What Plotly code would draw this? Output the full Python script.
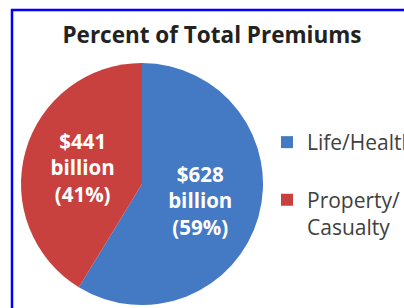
import plotly.graph_objects as go

labels = ["Life/Health<br> ", "Property/<br>Casualty"]
values = [628, 441]
percents = [59, 41]
colors = ["#4479C4", "#C8413F"]
title_text = "Percent of Total Premiums"

W, H = 404, 308

def px_x(p):
    return p / W

def px_y(p):
    return 1 - p / H

texts = [f"${v}<br>billion<br>({p}%)" for v, p in zip(values, percents)]

fig = go.Figure()
fig.add_trace(go.Pie(
    labels=labels,
    values=values,
    text=texts,
    textinfo="text",
    textposition="inside",
    insidetextorientation="horizontal",
    textfont=dict(family="Open Sans", size=20.5, color="white", weight="bold"),
    marker=dict(colors=colors, line=dict(width=0)),
    sort=False,
    direction="clockwise",
    rotation=0,
    domain=dict(x=[px_x(21), px_x(263)], y=[px_y(305), px_y(63)]),
    hoverinfo="value+percent",
))

fig.update_layout(
    width=W, height=H,
    margin=dict(l=0, r=0, t=0, b=0, autoexpand=False),
    paper_bgcolor="white",
    plot_bgcolor="white",
    title=dict(text="<b>" + title_text + "</b>", x=px_x(212), xanchor="center",
               y=px_y(35), yanchor="middle",
               font=dict(family="Open Sans", size=22.5, color="#222222")),
    showlegend=True,
    legend=dict(x=px_x(267), xanchor="left", y=px_y(122), yanchor="top",
                font=dict(family="Open Sans", size=21, color="#404040"),
                bgcolor="rgba(0,0,0,0)", itemwidth=30, valign="top",
                tracegroupgap=0),
    shapes=[
        dict(type="line", xref="paper", yref="paper", x0=px_x(12), x1=px_x(12),
             y0=0, y1=px_y(9), line=dict(color="#0000FF", width=2.5)),
        dict(type="line", xref="paper", yref="paper", x0=px_x(11), x1=1.0,
             y0=px_y(10), y1=px_y(10), line=dict(color="#0000FF", width=2.5)),
    ],
)

fig.write_html(
    "out.html",
    config={"displayModeBar": False},
    post_script="document.body.style.margin='0';document.body.style.overflow='hidden';",
)
